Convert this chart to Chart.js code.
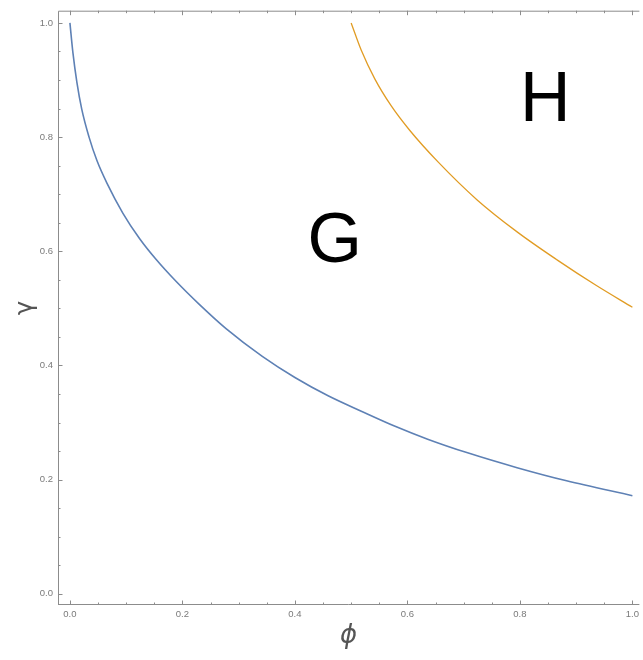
<!DOCTYPE html>
<html>
<head>
<meta charset="utf-8">
<script src="https://cdn.jsdelivr.net/npm/chart.js@4"></script>
<style>
  body { margin: 0; background: #fff; }
  #wrap { width: 643px; height: 660px; }
</style>
</head>
<body>
<div id="wrap"><canvas id="phaseChart" width="643" height="660"></canvas></div>
<script>
// values
let blueX = [0, 0.0053, 0.0124, 0.021, 0.034, 0.048, 0.066, 0.094, 0.124, 0.153, 0.189, 0.23, 0.277, 0.342, 0.40, 0.459, 0.518, 0.577, 0.636, 0.707, 0.795, 0.883, 1.0];
let blueY = [1.0, 0.948, 0.896, 0.849, 0.800, 0.759, 0.719, 0.667, 0.622, 0.586, 0.547, 0.507, 0.465, 0.416, 0.379, 0.347, 0.320, 0.294, 0.271, 0.247, 0.221, 0.198, 0.172];

let orangeX = [0.5, 0.518, 0.542, 0.571, 0.604, 0.654, 0.724, 0.795, 0.866, 0.936, 1.0];
let orangeY = [1.0, 0.952, 0.902, 0.855, 0.812, 0.757, 0.690, 0.634, 0.585, 0.540, 0.502];

let majorTicks = [0, 0.2, 0.4, 0.6, 0.8, 1.0];
let minorTicks = [0.05, 0.1, 0.15, 0.25, 0.3, 0.35, 0.45, 0.5, 0.55, 0.65, 0.7, 0.75, 0.85, 0.9, 0.95];

let regionNames = ['G', 'H'];
let regionX = [0.471, 0.845];
let regionY = [0.615, 0.862];

function toPoints(xs, ys) {
  let pts = [];
  for (let i = 0; i < xs.length; i++) {
    pts.push({x: xs[i], y: ys[i]});
  }
  return pts;
}

let frameColor = '#8c8c8c';

// Mathematica style frame: inward ticks on left, bottom and top
let framePlugin = {
  id: 'frame',
  afterDraw(chart) {
    let ctx = chart.ctx;
    let xs = chart.scales.x, ys = chart.scales.y;
    let a = chart.chartArea;
    ctx.save();
    ctx.strokeStyle = frameColor;
    ctx.lineWidth = 1;
    ctx.beginPath();
    ctx.moveTo(a.left + 0.5, a.bottom);
    ctx.lineTo(a.left + 0.5, a.top + 0.5);
    ctx.lineTo(a.right, a.top + 0.5);
    ctx.moveTo(a.left, a.bottom - 0.5);
    ctx.lineTo(a.right, a.bottom - 0.5);
    let tick = function(v, len) {
      let px = Math.round(xs.getPixelForValue(v)) + 0.5;
      ctx.moveTo(px, a.bottom);
      ctx.lineTo(px, a.bottom - len);
      ctx.moveTo(px, a.top);
      ctx.lineTo(px, a.top + len);
      let py = Math.round(ys.getPixelForValue(v)) + 0.5;
      ctx.moveTo(a.left, py);
      ctx.lineTo(a.left + len, py);
    };
    majorTicks.forEach(v => tick(v, 4.5));
    minorTicks.forEach(v => tick(v, 2.5));
    ctx.stroke();

    // region labels
    ctx.fillStyle = '#000';
    ctx.font = '70px "Liberation Sans", Arial, sans-serif';
    ctx.textAlign = 'center';
    ctx.textBaseline = 'middle';
    for (let i = 0; i < regionNames.length; i++) {
      ctx.fillText(regionNames[i], xs.getPixelForValue(regionX[i]), ys.getPixelForValue(regionY[i]));
    }
    ctx.restore();
  }
};

let tickFont = {family: '"Liberation Sans", Arial, sans-serif', size: 9.5};

new Chart(document.getElementById('phaseChart'), {
  type: 'scatter',
  data: {
    datasets: [
      {
        data: toPoints(blueX, blueY),
        showLine: true,
        borderColor: '#5e81b5',
        borderWidth: 1.6,
        pointRadius: 0,
        cubicInterpolationMode: 'monotone'
      },
      {
        data: toPoints(orangeX, orangeY),
        showLine: true,
        borderColor: '#e19c24',
        borderWidth: 1.3,
        pointRadius: 0,
        cubicInterpolationMode: 'monotone'
      }
    ]
  },
  options: {
    responsive: false,
    animation: false,
    layout: { padding: {top: 8, right: 0, left: 0, bottom: 0} },
    plugins: {
      legend: { display: false },
      tooltip: { enabled: false }
    },
    scales: {
      x: {
        type: 'linear',
        min: -0.0212,
        max: 1.0124,
        grid: { display: false, drawTicks: false },
        border: { display: false },
        afterBuildTicks: s => { s.ticks = majorTicks.map(v => ({value: v})); },
        afterFit: s => { s.height = 55; },
        ticks: {
          padding: 4,
          color: '#7a7a7a',
          font: tickFont,
          maxRotation: 0,
          callback: v => v.toFixed(1)
        },
        title: {
          display: true,
          text: 'ϕ',
          color: '#555',
          padding: {top: 0, bottom: 8},
          font: {family: '"DejaVu Sans", sans-serif', size: 26, style: 'italic'}
        }
      },
      y: {
        type: 'linear',
        min: -0.0195,
        max: 1.0214,
        grid: { display: false, drawTicks: false },
        border: { display: false },
        afterBuildTicks: s => { s.ticks = majorTicks.map(v => ({value: v})); },
        afterFit: s => { s.width = 58; },
        ticks: {
          padding: 5,
          color: '#7a7a7a',
          font: tickFont,
          callback: v => v.toFixed(1)
        },
        title: {
          display: true,
          text: 'γ',
          color: '#555',
          padding: {top: 11, bottom: 0},
          font: {family: '"DejaVu Sans", sans-serif', size: 24}
        }
      }
    }
  },
  plugins: [framePlugin]
});
</script>
</body>
</html>
